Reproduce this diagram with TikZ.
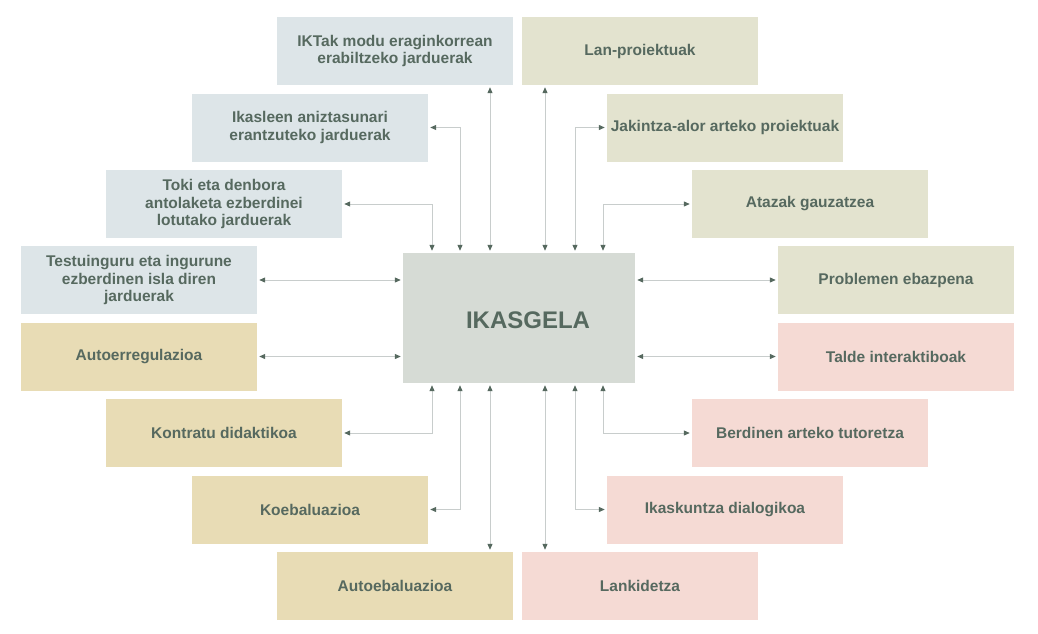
\documentclass[tikz,border=0pt]{standalone}
\usepackage{fontspec}
\setmainfont{Liberation Sans}
\usetikzlibrary{arrows.meta}
\definecolor{txt}{HTML}{56695F}
\definecolor{cblue}{HTML}{DDE5E8}
\definecolor{colive}{HTML}{E3E3CF}
\definecolor{ctan}{HTML}{E8DCB5}
\definecolor{cpink}{HTML}{F5DAD4}
\definecolor{ccenter}{HTML}{D6DBD5}
\definecolor{cline}{HTML}{C8CDCC}
\tikzset{
  box/.style={minimum width=236pt, minimum height=68pt, inner sep=0pt, align=center,
    text=txt, font=\fontsize{15.5}{17.5}\selectfont\bfseries},
  bbox/.style={box, fill=cblue},
  obox/.style={box, fill=colive},
  tbox/.style={box, fill=ctan},
  pbox/.style={box, fill=cpink},
  conn/.style={draw=cline, line width=1pt,
    arrows={Triangle[length=6pt,width=5pt,color=txt]-Triangle[length=6pt,width=5pt,color=txt]},
    shorten <=2pt, shorten >=2pt}
}
\begin{document}
\begin{tikzpicture}[x=1pt,y=-1pt]
\useasboundingbox (0,0) rectangle (1038,634);
\node[minimum width=232pt, minimum height=130pt, inner sep=0pt, fill=ccenter] (c) at (519,318) {};
\node[text=txt, font=\fontsize{24}{28}\selectfont\bfseries, inner sep=0pt] (ct) at (528,320) {IKASGELA};
% left column
\node[bbox] (ikt) at (395,51) {IKTak modu eraginkorrean\\erabiltzeko jarduerak};
\node[bbox] (ika) at (310,127.5) {Ikasleen aniztasunari\\erantzuteko jarduerak};
\node[bbox] (tok) at (224,204) {Toki eta denbora\\antolaketa ezberdinei\\lotutako jarduerak};
\node[bbox] (tes) at (139,280) {Testuinguru eta ingurune\\ezberdinen isla diren\\jarduerak};
\node[tbox] (aut) at (139,356.5) {Autoerregulazioa};
\node[tbox] (kon) at (224,433) {Kontratu didaktikoa};
\node[tbox] (koe) at (310,509.5) {Koebaluazioa};
\node[tbox] (aeb) at (395,586) {Autoebaluazioa};
% right column
\node[obox] (lan) at (640,51) {Lan-proiektuak};
\node[obox] (jak) at (725,127.5) {Jakintza-alor arteko proiektuak};
\node[obox] (ata) at (810,204) {Atazak gauzatzea};
\node[obox] (pro) at (896,280) {Problemen ebazpena};
\node[pbox] (tal) at (896,356.5) {Talde interaktiboak};
\node[pbox] (ber) at (810,433) {Berdinen arteko tutoretza};
\node[pbox] (ikk) at (725,509.5) {Ikaskuntza dialogikoa};
\node[pbox] (lkd) at (640,586) {Lankidetza};
% column coordinates
\coordinate (x1) at (432,0);
\coordinate (x2) at (460,0);
\coordinate (x3) at (490,0);
\coordinate (x4) at (545,0);
\coordinate (x5) at (575,0);
\coordinate (x6) at (603,0);
% connectors top
\draw[conn] (ikt.south -| x3) -- (c.north -| x3);
\draw[conn] (lan.south -| x4) -- (c.north -| x4);
\draw[conn] (ika.east) -| (c.north -| x2);
\draw[conn] (tok.east) -| (c.north -| x1);
\draw[conn] (jak.west) -| (c.north -| x5);
\draw[conn] (ata.west) -| (c.north -| x6);
% connectors sides
\draw[conn] (tes.east) -- (tes.east -| c.west);
\draw[conn] (aut.east) -- (aut.east -| c.west);
\draw[conn] (pro.west) -- (pro.west -| c.east);
\draw[conn] (tal.west) -- (tal.west -| c.east);
% connectors bottom
\draw[conn] (kon.east) -| (c.south -| x1);
\draw[conn] (koe.east) -| (c.south -| x2);
\draw[conn] (aeb.north -| x3) -- (c.south -| x3);
\draw[conn] (lkd.north -| x4) -- (c.south -| x4);
\draw[conn] (ikk.west) -| (c.south -| x5);
\draw[conn] (ber.west) -| (c.south -| x6);
\end{tikzpicture}
\end{document}
